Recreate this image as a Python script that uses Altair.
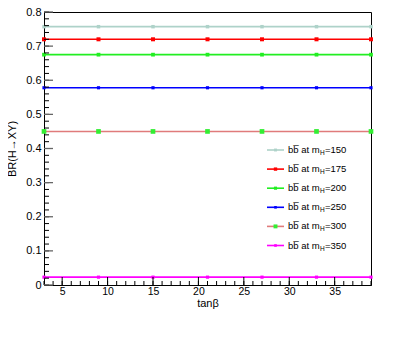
import altair as alt
import pandas as pd

tanb = [3, 9, 15, 21, 27, 33, 39]
mass = [150, 175, 200, 250, 300, 350]
br = [0.757, 0.720, 0.675, 0.578, 0.450, 0.023]
line_colors = ["#aed2c9", "#ff0000", "#22ee22", "#0000ff", "#e07b7b", "#ff00ff"]
marker_colors = ["#aed2c9", "#ff0000", "#22ee22", "#0000ff", "#33ee33", "#ff00ff"]
marker_sizes = [12, 16, 14, 10, 22, 10]
x_labels = [5, 10, 15, 20, 25, 30, 35]
y_labels = [0, 0.1, 0.2, 0.3, 0.4, 0.5, 0.6, 0.7, 0.8]

FONT = "Liberation Sans, DejaVu Sans"
W, H = 327, 273

rows = []
for m, b, lc, mc, ms in zip(mass, br, line_colors, marker_colors, marker_sizes):
    for t in tanb:
        rows.append({"tanb": t, "br": b, "m": str(m), "lc": lc, "mc": mc, "ms": ms})
df = pd.DataFrame(rows)

xs = alt.Scale(domain=[3, 39], nice=False, zero=False)
ys = alt.Scale(domain=[0, 0.8], nice=False)

ax_x = alt.Axis(values=x_labels, title="tanβ", tickSize=0,
                labelPadding=1, labelFont=FONT, labelFontSize=10.5, titleFont=FONT, titleFontSize=11,
                titleFontWeight="normal", titleY=18, titleBaseline="middle", grid=False,
                labelOverlap=False, domainColor="black", labelColor="black", titleColor="black")
ax_y = alt.Axis(values=y_labels, title="BR(H→XY)", tickSize=0,
                labelPadding=3, labelFont=FONT, labelFontSize=11, titleFont=FONT, titleFontSize=11,
                labelExpr="datum.value == 0 ? '0' : format(datum.value, '.1f')",
                labelOverlap=False, labelFlush=False,
                titleFontWeight="normal", titleX=-32, titleY=H / 2, titleAngle=-90,
                titleBaseline="middle", titleAlign="center", grid=False,
                domainColor="black", labelColor="black", titleColor="black")

base = alt.Chart(df)
lines = base.mark_line(strokeWidth=1.6).encode(
    x=alt.X("tanb:Q", scale=xs, axis=ax_x),
    y=alt.Y("br:Q", scale=ys, axis=ax_y),
    color=alt.Color("lc:N", scale=None),
    detail="m:N",
)
points = base.mark_square(opacity=1).encode(
    x=alt.X("tanb:Q", scale=xs, axis=ax_x),
    y=alt.Y("br:Q", scale=ys, axis=ax_y),
    color=alt.Color("mc:N", scale=None),
    size=alt.Size("ms:Q", scale=None),
)

# inward ticks
xmaj = pd.DataFrame({"tanb": x_labels})
xmin = pd.DataFrame({"tanb": list(range(3, 40))})
ymaj = pd.DataFrame({"br": y_labels})
ymin = pd.DataFrame({"br": [round(i * 0.02, 2) for i in range(41)]})

xt_maj = alt.Chart(xmaj).mark_rule(color="black").encode(
    x=alt.X("tanb:Q", scale=xs, axis=ax_x), y=alt.value(H), y2=alt.value(H - 8))
xt_min = alt.Chart(xmin).mark_rule(color="black").encode(
    x=alt.X("tanb:Q", scale=xs, axis=ax_x), y=alt.value(H), y2=alt.value(H - 4))
yt_maj = alt.Chart(ymaj).mark_rule(color="#666666", strokeWidth=1.3).encode(
    y=alt.Y("br:Q", scale=ys, axis=ax_y), x=alt.value(0), x2=alt.value(9))
yt_min = alt.Chart(ymin).mark_rule(color="black").encode(
    y=alt.Y("br:Q", scale=ys, axis=ax_y), x=alt.value(0), x2=alt.value(5))

main = alt.layer(lines, points, xt_min, xt_maj, yt_min, yt_maj)

# legend
leg = pd.DataFrame({
    "rank": list(range(len(mass))),
    "lc": line_colors, "mc": marker_colors, "ms": [s * 0.7 for s in marker_sizes],
    "lab": [f"={m}" for m in mass],
})
ls = alt.Scale(domain=[0, 5], range=[138, 233.5])
lb = alt.Chart(leg)
leg_line = lb.mark_rule(strokeWidth=1.6).encode(
    y=alt.Y("rank:Q", scale=ls, axis=None), x=alt.value(223), x2=alt.value(240),
    color=alt.Color("lc:N", scale=None))
leg_pt = lb.mark_square(opacity=1).encode(
    y=alt.Y("rank:Q", scale=ls, axis=None), x=alt.value(231.5),
    color=alt.Color("mc:N", scale=None), size=alt.Size("ms:Q", scale=None))
leg_t1 = lb.mark_text(align="left", baseline="middle", font=FONT, fontSize=9.5, color="black").encode(
    y=alt.Y("rank:Q", scale=ls, axis=None), x=alt.value(244), text=alt.value("bb\u0305 at m"))
leg_t2 = lb.mark_text(align="left", baseline="middle", font=FONT, fontSize=6.5, color="black", dy=3).encode(
    y=alt.Y("rank:Q", scale=ls, axis=None), x=alt.value(276), text=alt.value("H"))
leg_t3 = lb.mark_text(align="left", baseline="middle", font=FONT, fontSize=9.5, color="black").encode(
    y=alt.Y("rank:Q", scale=ls, axis=None), x=alt.value(281), text="lab:N")
legend = alt.layer(leg_line, leg_pt, leg_t1, leg_t2, leg_t3)

chart = alt.layer(main, legend).resolve_scale(y="independent").properties(
    width=W, height=H,
    autosize=alt.AutoSizeParams(type="none"),
    padding={"left": 36, "top": 4, "right": 30, "bottom": 47},
    background="white",
).configure_view(stroke="black", strokeWidth=1)

chart.save("out.html", embed_options={"renderer": "svg", "actions": False})
